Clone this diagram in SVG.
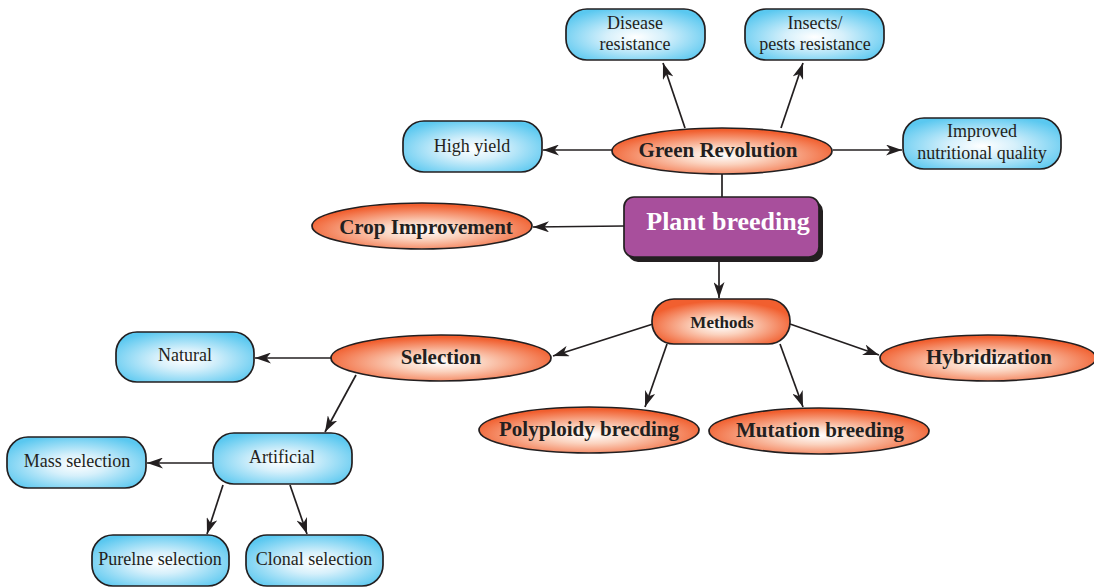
<svg xmlns="http://www.w3.org/2000/svg" width="1094" height="587" viewBox="0 0 1094 587">
<defs>
<radialGradient id="gBlue" cx="0.5" cy="0.55" r="0.6">
<stop offset="0" stop-color="#ffffff"/>
<stop offset="0.35" stop-color="#d6f0fb"/>
<stop offset="1" stop-color="#5ac8f0"/>
</radialGradient>
<radialGradient id="gOrange" cx="0.5" cy="0.6" r="0.55">
<stop offset="0" stop-color="#ffffff"/>
<stop offset="0.35" stop-color="#fbd3bf"/>
<stop offset="1" stop-color="#f15f2f"/>
</radialGradient>
<marker id="arr" viewBox="0 0 16 11" refX="16" refY="5.5" markerWidth="16" markerHeight="11" markerUnits="userSpaceOnUse" orient="auto">
<path d="M0,0 L16,5.5 L0,11 L4.5,5.5 Z" fill="#231f20"/>
</marker>
</defs>
<style>
.blue{fill:url(#gBlue);stroke:#231f20;stroke-width:1.7}
.ora{fill:url(#gOrange);stroke:#231f20;stroke-width:1.7}
.lbl{font-family:"Liberation Serif","DejaVu Serif",serif;font-size:18px;fill:#231f20;text-anchor:middle}
.blbl{font-family:"Liberation Serif","DejaVu Serif",serif;font-size:21px;font-weight:bold;fill:#231f20;text-anchor:middle}
.conn line{stroke:#231f20;stroke-width:1.7}
.arrow{marker-end:url(#arr)}
</style>
<rect width="1094" height="587" fill="#ffffff"/>

<g id="connectors" class="conn">
<line class="arrow" x1="685" y1="128" x2="663" y2="63"/>
<line class="arrow" x1="781" y1="128" x2="803" y2="63"/>
<line class="arrow" x1="612" y1="150" x2="543" y2="150"/>
<line class="arrow" x1="833" y1="150" x2="902" y2="150"/>
<line x1="722" y1="174" x2="722" y2="197"/>
<line class="arrow" x1="624" y1="226" x2="533" y2="227"/>
<line class="arrow" x1="719" y1="261" x2="719" y2="298"/>
<line class="arrow" x1="653" y1="324" x2="553" y2="356"/>
<line class="arrow" x1="790" y1="324" x2="879" y2="355"/>
<line class="arrow" x1="667" y1="344" x2="645" y2="407"/>
<line class="arrow" x1="780" y1="344" x2="803" y2="407"/>
<line class="arrow" x1="332" y1="358" x2="255" y2="358"/>
<line class="arrow" x1="356" y1="375" x2="325" y2="432"/>
<line class="arrow" x1="213" y1="463" x2="147" y2="463"/>
<line class="arrow" x1="223" y1="485" x2="207" y2="534"/>
<line class="arrow" x1="290" y1="485" x2="307" y2="534"/>
</g>

<g id="disease">
<rect class="blue" x="566" y="9" width="139" height="51" rx="21"/>
<text class="lbl" x="635" y="29">Disease</text>
<text class="lbl" x="635" y="50">resistance</text>
</g>
<g id="insects">
<rect class="blue" x="745" y="9" width="139" height="51" rx="21"/>
<text class="lbl" x="815" y="29">Insects/</text>
<text class="lbl" x="815" y="50">pests resistance</text>
</g>
<g id="high-yield">
<rect class="blue" x="403" y="121" width="139" height="51" rx="21"/>
<text class="lbl" x="472" y="152">High yield</text>
</g>
<g id="nutrition">
<rect class="blue" x="903" y="118" width="158" height="51" rx="21"/>
<text class="lbl" x="982" y="137">Improved</text>
<text class="lbl" x="982" y="159">nutritional quality</text>
</g>
<g id="green-revolution">
<ellipse class="ora" cx="722" cy="151" rx="110" ry="23"/>
<text class="blbl" x="718" y="157">Green Revolution</text>
</g>
<g id="plant-breeding">
<rect x="628" y="201" width="195" height="61" rx="10" fill="#231f20"/>
<rect x="624" y="197" width="195" height="60" rx="10" fill="#a84f9c" stroke="#231f20" stroke-width="1.7"/>
<text x="728" y="230" style="font-family:'Liberation Serif','DejaVu Serif',serif;font-size:26px;font-weight:bold;fill:#ffffff;text-anchor:middle">Plant breeding</text>
</g>
<g id="crop-improvement">
<ellipse class="ora" cx="422" cy="226" rx="110" ry="23"/>
<text class="blbl" x="426" y="234">Crop Improvement</text>
</g>
<g id="methods">
<rect class="ora" x="652" y="299" width="138" height="45" rx="22"/>
<text class="blbl" x="722" y="328" style="font-size:17px">Methods</text>
</g>
<g id="selection">
<ellipse class="ora" cx="441" cy="358" rx="110" ry="23"/>
<text class="blbl" x="441" y="364">Selection</text>
</g>
<g id="hybridization">
<ellipse class="ora" cx="988" cy="358" rx="108" ry="23"/>
<text class="blbl" x="989" y="364">Hybridization</text>
</g>
<g id="polyploidy">
<ellipse class="ora" cx="589" cy="430" rx="110" ry="23"/>
<text class="blbl" x="589" y="436">Polyploidy brecding</text>
</g>
<g id="mutation">
<ellipse class="ora" cx="819" cy="431" rx="110" ry="23"/>
<text class="blbl" x="820" y="437">Mutation breeding</text>
</g>
<g id="natural">
<rect class="blue" x="116" y="332" width="138" height="50" rx="21"/>
<text class="lbl" x="185" y="361">Natural</text>
</g>
<g id="artificial">
<rect class="blue" x="213" y="433" width="139" height="51" rx="21"/>
<text class="lbl" x="282" y="463">Artificial</text>
</g>
<g id="mass-selection">
<rect class="blue" x="7" y="437" width="139" height="51" rx="21"/>
<text class="lbl" x="77" y="467">Mass selection</text>
</g>
<g id="purelne-selection">
<rect class="blue" x="92" y="535" width="137" height="51" rx="21"/>
<text class="lbl" x="160" y="565">Purelne selection</text>
</g>
<g id="clonal-selection">
<rect class="blue" x="246" y="535" width="137" height="51" rx="21"/>
<text class="lbl" x="314" y="565">Clonal selection</text>
</g>
</svg>
